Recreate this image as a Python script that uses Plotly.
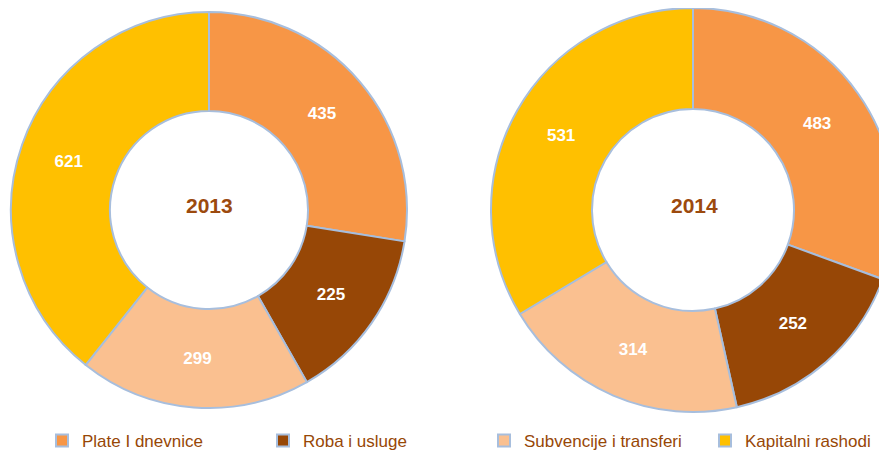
import plotly.graph_objects as go

categories = ["Plate I dnevnice", "Roba i usluge", "Subvencije i transferi", "Kapitalni rashodi"]
values_2013 = [435, 225, 299, 621]
values_2014 = [483, 252, 314, 531]
years = ["2013", "2014"]
colors = ["#F79646", "#974706", "#FAC090", "#FFC000"]

W, H = 887, 453
OFF = 8  # page body margin
border = dict(color="#A7BEDD", width=2)
FONT = "Liberation Sans, Arial, sans-serif"


def px_x(v):
    return (v - OFF) / W


def px_y(v):
    return 1 - (v - OFF) / H


fig = go.Figure()
fig.add_trace(go.Pie(
    labels=categories, values=values_2013, hole=0.5, sort=False,
    direction="clockwise", rotation=0,
    marker=dict(colors=colors, line=border),
    textinfo="value", textposition="inside", insidetextorientation="horizontal",
    textfont=dict(family=FONT, size=17, color="white", weight="bold"),
    domain=dict(x=[px_x(11), px_x(407)], y=[px_y(408), px_y(12)]),
    showlegend=True, hoverinfo="label+value+percent",
))
fig.add_trace(go.Pie(
    labels=categories, values=values_2014, hole=0.5, sort=False,
    direction="clockwise", rotation=0,
    marker=dict(colors=colors, line=border),
    textinfo="value", textposition="inside", insidetextorientation="horizontal",
    textfont=dict(family=FONT, size=17, color="white", weight="bold"),
    domain=dict(x=[px_x(491), 1.0], y=[px_y(412), px_y(8)]),
    showlegend=False, hoverinfo="label+value+percent",
))

fig.add_annotation(x=px_x(209), y=px_y(205), xref="paper", yref="paper", text="<b>" + years[0] + "</b>",
                   xanchor="center", yanchor="middle",
                   showarrow=False, font=dict(family=FONT, size=21, color="#9C4A0E"))
fig.add_annotation(x=px_x(694), y=px_y(205), xref="paper", yref="paper", text="<b>" + years[1] + "</b>",
                   xanchor="center", yanchor="middle",
                   showarrow=False, font=dict(family=FONT, size=21, color="#9C4A0E"))

fig.update_layout(
    width=W, height=H,
    margin=dict(l=0, r=0, t=0, b=0, autoexpand=False),
    paper_bgcolor="white", plot_bgcolor="white",
    legend=dict(orientation="h", x=px_x(42), xanchor="left", y=px_y(441), yanchor="middle",
                entrywidth=176, entrywidthmode="pixels", itemwidth=30,
                font=dict(family=FONT, size=17, color="#974706"),
                bgcolor="rgba(0,0,0,0)", traceorder="normal"),
)

fig.write_html("out.html")
